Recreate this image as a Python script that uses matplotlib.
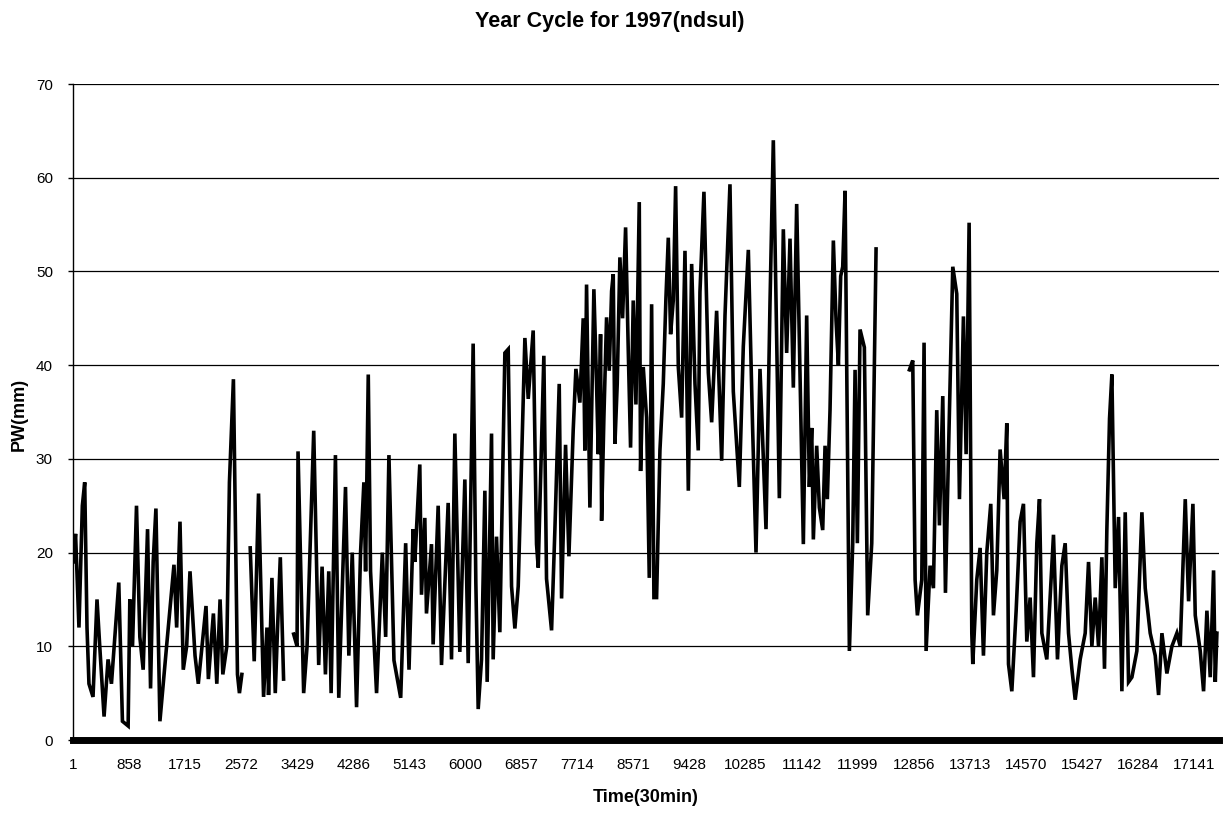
import matplotlib
matplotlib.use("Agg")
import matplotlib.pyplot as plt
import numpy as np

plt.rcParams['font.family'] = ['Liberation Sans', 'DejaVu Sans']

# turning points: time index (30 min steps) and PW (mm)
# NaN marks the stretches with no data
nan = np.nan
time_idx = [
    1, 40, 92, 144, 180, 215, 245, 307, 368, 410, 476, 537, 589, 701, 757, 844,
    870, 911, 972, 1023, 1074, 1141, 1187, 1227, 1269, 1330, 1432, 1545, 1586,
    1637, 1687, 1739, 1790, 1867, 1917, 2035, 2071, 2148, 2200, 2250, 2292, 2353,
    2393, 2454, 2516, 2546, 2583, 2650,
    2711, 2772, 2838, 2915, 2967, 2991, 3043, 3094, 3129, 3171, 3221, 3300,
    3375, 3427, 3442, 3528, 3580, 3682, 3758, 3810, 3861, 3912, 3948, 4014, 4065,
    4168, 4219, 4271, 4337, 4398, 4449, 4475, 4516, 4551, 4643, 4731, 4782, 4832,
    4909, 5012, 5088, 5139,
    5202, 5228, 5304, 5330, 5381, 5406, 5483, 5508, 5585, 5636, 5738, 5789, 5840,
    5916, 5993, 6044, 6120, 6161, 6197, 6248, 6299, 6334, 6401, 6426, 6477, 6528,
    6605, 6656, 6707, 6758, 6809, 6911, 6962, 7038, 7089, 7115, 7201, 7242, 7319,
    7370, 7436, 7472, 7533, 7584, 7650, 7691,
    7752, 7803, 7828, 7854, 7905, 7930, 7966, 8007, 8033, 8068, 8084, 8119, 8160,
    8201, 8237, 8262, 8288, 8323, 8364, 8405, 8451, 8492, 8527, 8568, 8609, 8660,
    8680, 8721, 8772, 8813, 8849, 8884, 8925, 8976, 9027, 9068, 9104, 9139, 9180,
    9216, 9257, 9308, 9359, 9410, 9461, 9512, 9562, 9588,
    9649, 9716, 9767, 9843, 9920, 9971, 10047, 10098, 10190,
    10251, 10328, 10394, 10445, 10506, 10598, 10659, 10710, 10802, 10863, 10914,
    10965, 11016, 11067, 11118, 11169, 11220,
    11261, 11297, 11322, 11373, 11414, 11465, 11501, 11536, 11577, 11628, 11669,
    11705, 11740, 11771, 11807, 11832, 11873, 11924, 11960, 11995, 12036, 12102,
    12153, 12215, 12281, 12500,
    12791, 12842, 12878, 12913, 12980, 13015, 13046, 13107, 13158, 13209, 13250,
    13301, 13342, 13388, 13454, 13515, 13556, 13617, 13658, 13704, 13745, 13760,
    13821, 13872, 13923, 13974, 14035, 14076, 14127, 14178, 14239, 14280, 14306,
    14357, 14423, 14484, 14535, 14586, 14637, 14688, 14739, 14780, 14816, 14892,
    14994, 15055, 15122, 15173, 15224, 15275, 15326, 15402, 15479, 15530, 15581,
    15632, 15683, 15734, 15774, 15810, 15851, 15887, 15938, 15989, 16040, 16091,
    16142, 16193, 16269, 16346, 16397, 16473, 16550, 16601, 16652, 16728, 16805,
    16881, 16932, 16983, 17009, 17060, 17126, 17162, 17238, 17289, 17340, 17391,
    17442, 17468, 17493,
]
pw_mm = [
    19, 22, 12, 25, 27.5, 12, 6, 4.6, 15, 10, 2.5, 8.6, 6, 16.8, 2, 1.5,
    15, 10, 25, 11, 7.5, 22.5, 5.5, 19, 24.7, 2, 10, 18.7, 12,
    23.3, 7.5, 10, 18, 9, 6, 14.3, 6.5, 13.5, 6, 15, 7, 10,
    27.5, 38.5, 7, 5, 7, nan,
    20.5, 8.4, 26.3, 4.6, 12, 4.8, 17.3, 5, 12, 19.5, 6.5, nan,
    11.3, 10, 30.8, 5, 10, 33, 8, 18.5, 7, 18, 5, 30.4, 4.5,
    27, 9, 20, 3.5, 20, 27.5, 18, 39, 18, 5, 20, 11, 30.4,
    8.5, 4.5, 21, 7.5,
    22.5, 19, 29.4, 15.5, 23.7, 13.5, 20.9, 10.2, 25, 8, 25.3, 8.6, 32.7,
    9.4, 27.8, 8.2, 42.3, 16.8, 3.3, 8.6, 26.6, 6.2, 32.7, 8.6, 21.7, 11.5,
    41.3, 41.7, 16.4, 11.9, 16.4, 42.9, 36.4, 43.7, 20.9, 18.4, 41, 17.2, 11.7,
    22.5, 38, 15.1, 31.5, 19.6, 33.1, 39.6,
    36, 45, 30.9, 48.6, 24.8, 34.4, 48.1, 38, 30.5, 43.3, 23.4, 34.4, 45.1,
    39.4, 47.9, 49.7, 31.6, 38, 51.5, 45, 54.7, 41.5, 31.2, 46.9, 35.8, 57.4,
    28.7, 39.8, 34.4, 17.3, 46.5, 15.2, 15.2, 30.9, 38, 47.2, 53.6, 43.3, 46.9,
    59.1, 39.8, 34.4, 52.2, 26.6, 50.8, 38, 30.9, 47.8,
    58.5, 39.2, 33.9, 45.8, 29.8, 45.3, 59.3, 37.2, 27,
    42, 52.3, 33.1, 20, 39.6, 22.5, 46.6, 64, 25.8, 54.5, 41.3,
    53.5, 37.6, 57.2, 39.2, 20.9, 45.3,
    27, 33.3, 21.4, 31.4, 24.8, 22.4, 31.4, 25.7, 35.2, 53.3, 44.8,
    40, 49.5, 50.5, 58.6, 40, 9.5, 21, 39.5, 21, 43.8, 41.9,
    13.3, 21, 52.4, nan,
    39.5, 40.5, 17.1, 13.3, 17.1, 42.4, 9.5, 18.6, 16.2, 35.2, 22.9,
    36.7, 15.7, 30.5, 50.5, 47.6, 25.7, 45.2, 30.5, 55.2, 11.4, 8.1,
    17.1, 20.5, 9, 20, 25.2, 13.3, 18.1, 31, 25.7, 33.8, 8.1,
    5.2, 13.8, 23.3, 25.2, 10.5, 15.2, 6.7, 21, 25.7, 11.4, 8.6,
    21.9, 8.6, 18.6, 21, 11.4, 7.6, 4.3, 8.6, 11.4, 19, 10,
    15.2, 10, 19.5, 7.6, 22.4, 34.3, 39, 16.2, 23.8, 5.2, 24.3,
    6.2, 6.7, 9.5, 24.3, 16.2, 11.4, 9, 4.8, 11.4, 7.1, 10,
    11.4, 10, 20.5, 25.7, 14.8, 25.2, 13.3, 9.5, 5.2, 13.8, 6.7,
    18.1, 6.2, 11.4,
]

x_ticks = list(range(1, 17521, 857))
y_ticks = list(range(0, 71, 10))

W, H = 1227, 814
fig = plt.figure(figsize=(W / 100, H / 100), dpi=100)
ax = fig.add_axes([73 / W, 74 / H, 1146 / W, 656 / H])

ax.plot(time_idx, pw_mm, color='black', linewidth=2.6, solid_joinstyle='miter')

ax.set_xlim(1, 17525)
ax.set_ylim(0, 70)
ax.set_xticks(x_ticks)
ax.set_xticklabels([str(v) for v in x_ticks], fontsize=11)
ax.set_yticks(y_ticks)
ax.set_yticklabels([str(v) for v in y_ticks], fontsize=11)
ax.tick_params(axis='x', length=0, pad=13)
ax.tick_params(axis='y', length=3.5, width=1, pad=11)

ax.grid(axis='y', color='black', linewidth=0.9)
ax.set_axisbelow(True)
for side in ['top', 'right']:
    ax.spines[side].set_visible(False)
ax.spines['left'].set_linewidth(1)
ax.spines['bottom'].set_linewidth(5)

fig.text(646 / W, 1 - 797 / H, 'Time(30min)', ha='center', va='center',
         fontsize=13, fontweight='bold')
fig.text(19 / W, 1 - 414 / H, 'PW(mm)', ha='center', va='center', rotation=90,
         fontsize=13, fontweight='bold')
fig.text(610 / W, 1 - 21 / H, 'Year Cycle for 1997(ndsul)', ha='center', va='center',
         fontsize=15.5, fontweight='bold')

fig.savefig('out.png', dpi=100)
